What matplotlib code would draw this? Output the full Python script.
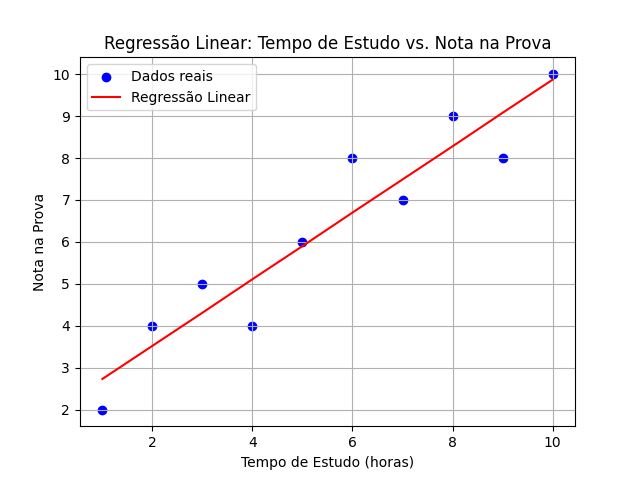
import matplotlib
matplotlib.use("Agg")
import matplotlib.pyplot as plt

# dados
horas = [1, 2, 3, 4, 5, 6, 7, 8, 9, 10]
notas = [2, 4, 5, 4, 6, 8, 7, 9, 8, 10]
# valores previstos pela reta
notas_previstas = [2.73, 3.52, 4.31, 5.11, 5.90, 6.70, 7.49, 8.28, 9.08, 9.87]

fig = plt.figure(figsize=(6.39, 4.79), dpi=100)
plt.scatter(horas, notas, color='blue', label='Dados reais')
plt.plot(horas, notas_previstas, color='red', label='Regressão Linear')
plt.title('Regressão Linear: Tempo de Estudo vs. Nota na Prova')
plt.xlabel('Tempo de Estudo (horas)')
plt.ylabel('Nota na Prova')
plt.legend()
plt.grid(True)
plt.savefig('out.png')
